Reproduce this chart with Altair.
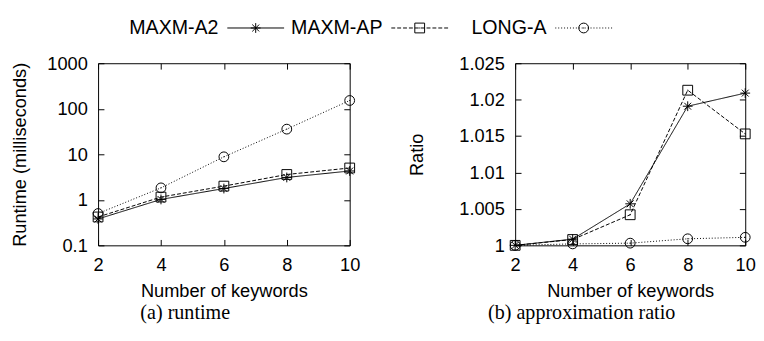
import altair as alt
import pandas as pd

# ---- data ----
series_names = ["MAXM-A2", "MAXM-AP", "LONG-A"]
keywords = [2, 4, 6, 8, 10]

runtime_a2 = [0.38, 1.02, 1.77, 3.1, 4.3]
runtime_ap = [0.42, 1.15, 2.0, 3.6, 5.0]
runtime_long = [0.5, 1.83, 8.8, 35.7, 152]

ratio_a2 = [1.0, 1.00085, 1.0057, 1.0191, 1.0209]
ratio_ap = [1.0, 1.0008, 1.0042, 1.0213, 1.0153]
ratio_long = [1.0, 1.0002, 1.0003, 1.0009, 1.0011]

x_ticks = [2, 4, 6, 8, 10]
runtime_ticks = [0.1, 1, 10, 100, 1000]
ratio_ticks = [1, 1.005, 1.01, 1.015, 1.02, 1.025]

rows = []
for name, rt, ra in zip(series_names,
                        [runtime_a2, runtime_ap, runtime_long],
                        [ratio_a2, ratio_ap, ratio_long]):
    for k, a, b in zip(keywords, rt, ra):
        rows.append({"series": name, "k": k, "runtime": a, "ratio": b})
df = pd.DataFrame(rows)
legend_df = pd.DataFrame({"series": series_names})

# ---- styles ----
FONT = "Liberation Sans"
FS = 18.6
INK = "black"

STAR = "M-1,0L1,0M0,-1L0,1M-0.7,-0.7L0.7,0.7M-0.7,0.7L0.7,-0.7"
SQUARE = "M-1,-1L1,-1L1,1L-1,1Z M-0.1,0L0.1,0"
CIRCLE = "M1,0A1,1 0 1,1 -1,0A1,1 0 1,1 1,0Z M-0.1,0L0.1,0"
marker_paths = [STAR, SQUARE, CIRCLE]
dash_styles = [[1, 0], [4, 2], [1, 2]]


def seg_line(on, off, half=5.8):
    parts = []
    x = -half
    while x < half - 1e-9:
        x2 = min(x + on, half)
        parts.append(f"M{x:.2f},0L{x2:.2f},0")
        x += on + off
    return "".join(parts)


legend_paths = [
    "M-5.8,0L5.8,0" + STAR,
    seg_line(0.8, 0.4) + SQUARE,
    seg_line(0.2, 0.4) + CIRCLE,
]


def panel(field, scale, yticks, ytitle, width, ytitlepad, caption):
    base = alt.Chart(df)
    xscale = alt.Scale(domain=[2, 10], nice=False)
    x_main = alt.X("k:Q", scale=xscale, axis=alt.Axis(
        orient="bottom", values=x_ticks, offset=-6, tickSize=6, tickColor=INK,
        domain=False, grid=False, labelPadding=11, labelFlush=False,
        labelFont=FONT, labelFontSize=FS, labelColor=INK,
        title="Number of keywords", titleFont=FONT, titleFontSize=FS,
        titleFontWeight="normal", titleColor=INK, titlePadding=8))
    y_main = alt.Y(f"{field}:Q", scale=scale, axis=alt.Axis(
        orient="left", values=yticks, format="~g", offset=-6, tickSize=6,
        tickColor=INK, domain=False, grid=False, labelPadding=11,
        labelFlush=False, labelFont=FONT, labelFontSize=FS, labelColor=INK,
        title=ytitle, titleFont=FONT, titleFontSize=FS,
        titleFontWeight="normal", titleColor=INK, titlePadding=ytitlepad))
    x_top = alt.X("k:Q", axis=alt.Axis(
        orient="top", values=x_ticks, offset=-6, tickSize=6, tickColor=INK,
        labels=False, domain=False, grid=False, title=None))
    y_right = alt.Y(f"{field}:Q", axis=alt.Axis(
        orient="right", values=yticks, offset=-6, tickSize=6, tickColor=INK,
        labels=False, domain=False, grid=False, title=None))

    lines = base.mark_line(color=INK, strokeWidth=1).encode(
        x=x_main, y=y_main,
        strokeDash=alt.StrokeDash("series:N", scale=alt.Scale(
            domain=series_names, range=dash_styles), legend=None),
        detail="series:N")

    layers = [lines]
    for i, (name, path) in enumerate(zip(series_names, marker_paths)):
        if i == 0:
            xe, ye = x_top, y_right
        else:
            xe = alt.X("k:Q", axis=None)
            ye = alt.Y(f"{field}:Q", axis=None)
        pts = base.mark_point(shape=path, filled=False, size=100, color=INK,
                              strokeWidth=1, opacity=1).encode(
            x=xe, y=ye).transform_filter(alt.datum.series == name)
        layers.append(pts)

    return alt.layer(*layers).resolve_axis(
        x="independent", y="independent").properties(
        width=width, height=186,
        title=alt.TitleParams(caption, orient="bottom", anchor="middle",
                              frame="bounds",
                              font="Liberation Serif", fontSize=20.5,
                              fontWeight="normal", color=INK, offset=3))


left = panel("runtime", alt.Scale(type="log", domain=[0.1, 1000], nice=False),
             runtime_ticks, "Runtime (milliseconds)", 257, 18, "(a) runtime")
right = panel("ratio", alt.Scale(domain=[1, 1.025], nice=False, zero=False),
              ratio_ticks, "Ratio", 235, 33, "(b) approximation ratio")

# ---- key: label on the left, line sample with marker on the right ----
x_key = alt.X("series:N", axis=None, scale=alt.Scale(
    type="point", domain=series_names, padding=0.4806, align=1))
key_text = alt.Chart(legend_df).mark_text(
    align="right", baseline="middle", dx=-38, font=FONT, fontSize=20,
    color=INK).encode(x=x_key, text="series:N")
key_sample = alt.Chart(legend_df).mark_point(
    filled=False, size=100, color=INK, strokeWidth=1, opacity=1).encode(
    x=x_key,
    shape=alt.Shape("series:N", scale=alt.Scale(
        domain=series_names, range=legend_paths), legend=None))
key = alt.layer(key_text, key_sample).properties(
    width=496, height=20, view=alt.ViewBackground(stroke="transparent"))

chart = alt.vconcat(
    key, alt.hconcat(left, right, spacing=47), spacing=15
).properties(
    padding={"left": 2, "top": 6, "right": 0, "bottom": 0}
).configure_view(stroke=INK, strokeWidth=1)

chart.save("out.html", embed_options={"renderer": "svg", "actions": False})
